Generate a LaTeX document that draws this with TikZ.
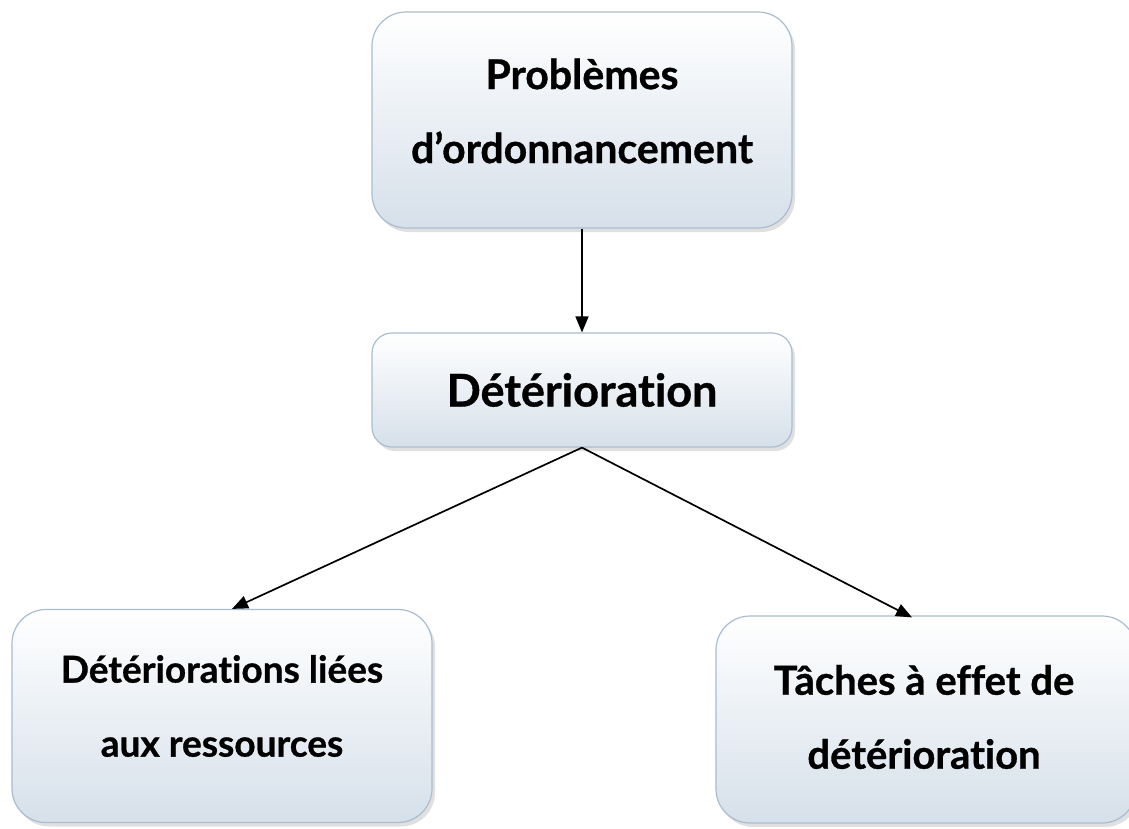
\documentclass[tikz,border=0pt]{standalone}
\usepackage{fontspec}
\setmainfont[Ligatures=NoCommon, BoldFeatures={FakeBold=0.8}]{Lato}
\usetikzlibrary{arrows.meta,shadows}
\begin{document}
\begin{tikzpicture}[x=1pt,y=-1pt,
  box/.style={rounded corners=#1, draw=boxedge, line width=1.2pt,
    top color=white, bottom color=boxbottom, inner sep=0pt,
    drop shadow={shadow xshift=3pt, shadow yshift=-4pt, opacity=0.35, fill=gray!70}},
  box/.default=34pt,
  label text/.style={align=center, inner sep=0pt,
    font=\fontsize{#1}{74}\selectfont\bfseries},
  link/.style={line width=1.7pt, -{Triangle[length=16pt,width=13pt]}}]
\definecolor{boxedge}{HTML}{A9BDD0}
\definecolor{boxbottom}{HTML}{D6E0EA}
\useasboundingbox (0,0) rectangle (1129,828);

% boxes
\node[box, minimum width=420pt, minimum height=216pt] (top) at (582,120) {};
\node[box=20pt, minimum width=420pt, minimum height=114pt] (mid) at (582,390) {};
\node[box, minimum width=420pt, minimum height=213pt] (left) at (222,716) {};
\node[box, minimum width=420pt, minimum height=207pt] (right) at (926,719.5) {};

% texts
\node[label text=41] (toptext) at (582,111) {Problèmes\\d’ordonnancement};
\node[label text=45] (midtext) at (582,390) {Détérioration};
\node[label text=37] (lefttext) at (222,706) {Détériorations liées\\aux ressources};
\node[label text=40] (righttext) at (924,717) {Tâches à effet de\\détérioration};

% connectors
\draw[link] (top.south) -- (mid.north);
\draw[link] (mid.south) -- ([xshift=10pt]left.north);
\draw[link] (mid.south) -- ([xshift=-14pt,yshift=-2pt]right.north);
\end{tikzpicture}
\end{document}
